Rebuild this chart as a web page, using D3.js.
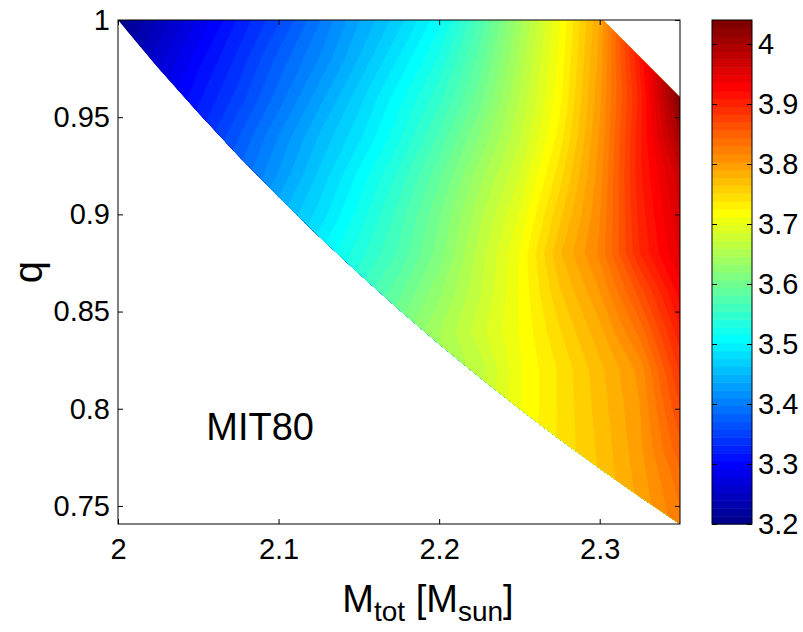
<!DOCTYPE html>
<html>
<head>
<meta charset="utf-8">
<script src="https://cdn.jsdelivr.net/npm/d3@7"></script>
<style>
  body { margin: 0; background: #fff; }
  text { font-family: "Liberation Sans", Arial, sans-serif; fill: #000; }
</style>
</head>
<body>
<div id="chart"></div>
<script>
// grid of the contour data: total mass (columns) x mass ratio (rows, top to bottom)
const massValues = [2.000, 2.025, 2.050, 2.075, 2.100, 2.125, 2.150, 2.175, 2.200, 2.225, 2.250, 2.275, 2.300, 2.325, 2.350];
const ratioValues = [1.00, 0.98, 0.96, 0.94, 0.92, 0.90, 0.88, 0.86, 0.84, 0.82, 0.80, 0.78, 0.76, 0.74];
const radiusGrid = [
  [3.20, 3.24, 3.28, 3.32, 3.355, 3.395, 3.435, 3.47, 3.51, 3.57, 3.64, 3.71, 3.79, 3.92, 4.05],
  [3.22, 3.26, 3.30, 3.335, 3.375, 3.41, 3.45, 3.49, 3.53, 3.585, 3.65, 3.715, 3.795, 3.91, 4.04],
  [3.235, 3.275, 3.315, 3.35, 3.39, 3.43, 3.47, 3.51, 3.55, 3.60, 3.66, 3.72, 3.80, 3.90, 4.03],
  [3.255, 3.29, 3.33, 3.37, 3.41, 3.45, 3.485, 3.525, 3.57, 3.62, 3.67, 3.73, 3.805, 3.905, 4.00],
  [3.27, 3.31, 3.35, 3.385, 3.425, 3.465, 3.505, 3.545, 3.59, 3.64, 3.685, 3.745, 3.81, 3.905, 3.97],
  [3.29, 3.325, 3.365, 3.405, 3.445, 3.48, 3.52, 3.56, 3.605, 3.655, 3.70, 3.76, 3.815, 3.90, 3.96],
  [3.305, 3.345, 3.385, 3.42, 3.46, 3.50, 3.535, 3.57, 3.613, 3.665, 3.712, 3.775, 3.82, 3.895, 3.95],
  [3.325, 3.365, 3.40, 3.44, 3.48, 3.52, 3.555, 3.59, 3.63, 3.67, 3.713, 3.762, 3.803, 3.862, 3.928],
  [3.34, 3.38, 3.42, 3.46, 3.50, 3.535, 3.575, 3.61, 3.645, 3.68, 3.712, 3.75, 3.786, 3.835, 3.905],
  [3.36, 3.40, 3.44, 3.475, 3.515, 3.555, 3.59, 3.62, 3.645, 3.665, 3.71, 3.74, 3.773, 3.808, 3.885],
  [3.38, 3.415, 3.455, 3.495, 3.53, 3.57, 3.60, 3.625, 3.65, 3.67, 3.71, 3.74, 3.77, 3.803, 3.868],
  [3.395, 3.435, 3.47, 3.51, 3.55, 3.585, 3.61, 3.635, 3.66, 3.68, 3.715, 3.74, 3.767, 3.80, 3.852],
  [3.41, 3.45, 3.49, 3.53, 3.565, 3.595, 3.62, 3.645, 3.665, 3.69, 3.72, 3.74, 3.765, 3.795, 3.835],
  [3.43, 3.47, 3.51, 3.545, 3.58, 3.605, 3.63, 3.655, 3.675, 3.70, 3.725, 3.742, 3.763, 3.79, 3.825]
];

// edges of the region that has data (white outside)
const upperEdge = [[2.000, 1.000], [2.302, 1.000], [2.350, 0.960]];
const lowerEdge = [[2.350, 0.7407], [2.325, 0.7547], [2.300, 0.7692], [2.275, 0.7843], [2.250, 0.8000],
  [2.225, 0.8163], [2.200, 0.8333], [2.175, 0.8511], [2.150, 0.8696], [2.125, 0.8889],
  [2.100, 0.9091], [2.075, 0.9302], [2.050, 0.9524], [2.025, 0.9756], [2.000, 1.000]];

const xTicks = [2, 2.1, 2.2, 2.3];
const yTicks = [0.75, 0.8, 0.85, 0.9, 0.95, 1];
const colorTicks = [3.2, 3.3, 3.4, 3.5, 3.6, 3.7, 3.8, 3.9, 4];
const colorLimits = [3.2, 4.04];
const nColors = 64;

const width = 803;
const height = 632;
const plotL = 118, plotR = 680, plotT = 20, plotB = 524;

// matlab jet(64), k = 1..64
function jet(k) {
  const r = k < 25 ? 0 : k <= 40 ? (k - 24) / 16 : k <= 55 ? 1 : (72 - k) / 16;
  const g = k < 9 ? 0 : k <= 24 ? (k - 8) / 16 : k <= 39 ? 1 : k <= 55 ? (56 - k) / 16 : 0;
  const b = k <= 8 ? (k + 8) / 16 : k <= 23 ? 1 : k <= 39 ? (40 - k) / 16 : 0;
  return d3.rgb(r * 255, g * 255, b * 255).formatHex();
}

const svg = d3.select("#chart").append("svg")
  .attr("width", width)
  .attr("height", height);

const x = d3.scaleLinear().domain([2, 2.35]).range([plotL, plotR]);
const y = d3.scaleLinear().domain([0.7407, 1]).range([plotB, plotT]);

// clip to data region
const region = upperEdge.concat(lowerEdge);
svg.append("clipPath").attr("id", "region")
  .append("path")
  .attr("d", d3.line().x(d => x(d[0])).y(d => y(d[1]))(region) + "Z");

// contour fill
const nx = massValues.length, ny = ratioValues.length;
const gx = d3.scaleLinear().domain([0.5, nx - 0.5]).range([massValues[0], massValues[nx - 1]]);
const gy = d3.scaleLinear().domain([0.5, ny - 0.5]).range([ratioValues[0], ratioValues[ny - 1]]);
const step = (colorLimits[1] - colorLimits[0]) / nColors;
const levels = d3.range(nColors).map(i => colorLimits[0] + i * step);

const contours = d3.contours()
  .size([nx, ny])
  .thresholds(levels)
  (radiusGrid.flat());

const proj = d3.geoTransform({
  point: function (px, py) { this.stream.point(x(gx(px)), y(gy(py))); }
});

svg.append("g")
  .attr("clip-path", "url(#region)")
  .selectAll("path")
  .data(contours)
  .enter().append("path")
  .attr("d", d3.geoPath(proj))
  .attr("fill", (d, i) => jet(i + 1))
  .attr("stroke", (d, i) => jet(i + 1))
  .attr("stroke-width", 0.6);

// axes, ticks inward, box
const tick = 5;
const fmt = d => String(d);

svg.append("g")
  .attr("transform", "translate(0," + plotB + ")")
  .call(d3.axisBottom(x).tickValues(xTicks).tickSize(-tick).tickPadding(14).tickFormat(fmt));
svg.append("g")
  .attr("transform", "translate(0," + plotT + ")")
  .call(d3.axisTop(x).tickValues(xTicks).tickSize(-tick).tickFormat(""));
svg.append("g")
  .attr("transform", "translate(" + plotL + ",0)")
  .call(d3.axisLeft(y).tickValues(yTicks).tickSize(-tick).tickPadding(8).tickFormat(fmt));
svg.append("g")
  .attr("transform", "translate(" + plotR + ",0)")
  .call(d3.axisRight(y).tickValues(yTicks).tickSize(-tick).tickFormat(""));

svg.append("rect")
  .attr("x", plotL).attr("y", plotT)
  .attr("width", plotR - plotL).attr("height", plotB - plotT)
  .attr("fill", "none").attr("stroke", "#000").attr("stroke-width", 1);

// colorbar
const cbL = 712, cbR = 752;
const c = d3.scaleLinear().domain(colorLimits).range([plotB, plotT]);

svg.append("g").selectAll("rect")
  .data(levels)
  .enter().append("rect")
  .attr("x", cbL)
  .attr("y", d => c(d + step))
  .attr("width", cbR - cbL)
  .attr("height", d => c(d) - c(d + step) + 0.5)
  .attr("fill", (d, i) => jet(i + 1));

svg.append("g")
  .attr("transform", "translate(" + cbR + ",0)")
  .call(d3.axisRight(c).tickValues(colorTicks).tickSize(-tick).tickPadding(6).tickFormat(fmt));
svg.append("g")
  .attr("transform", "translate(" + cbL + ",0)")
  .call(d3.axisLeft(c).tickValues(colorTicks).tickSize(-tick).tickFormat(""));

svg.append("rect")
  .attr("x", cbL).attr("y", plotT)
  .attr("width", cbR - cbL).attr("height", plotB - plotT)
  .attr("fill", "none").attr("stroke", "#000").attr("stroke-width", 1);

svg.selectAll(".domain").remove();
svg.selectAll(".tick line").attr("stroke", "#000");
svg.selectAll(".tick text").attr("font-size", 29).attr("fill", "#000")
  .attr("font-family", "Liberation Sans, Arial, sans-serif");

// labels
svg.append("text")
  .attr("transform", "translate(42," + ((plotT + plotB) / 2) + ") rotate(-90)")
  .attr("text-anchor", "middle")
  .attr("font-size", 40)
  .text("q");

const xl = svg.append("text")
  .attr("x", 428).attr("y", 612)
  .attr("text-anchor", "middle")
  .attr("font-size", 38);
xl.append("tspan").text("M");
xl.append("tspan").attr("font-size", 28).attr("dy", 9).text("tot");
xl.append("tspan").attr("dy", -9).text(" [M");
xl.append("tspan").attr("font-size", 28).attr("dy", 9).text("sun");
xl.append("tspan").attr("dy", -9).text("]");

svg.append("text")
  .attr("x", x(2.055)).attr("y", y(0.7839))
  .attr("font-size", 38)
  .text("MIT80");
</script>
</body>
</html>
